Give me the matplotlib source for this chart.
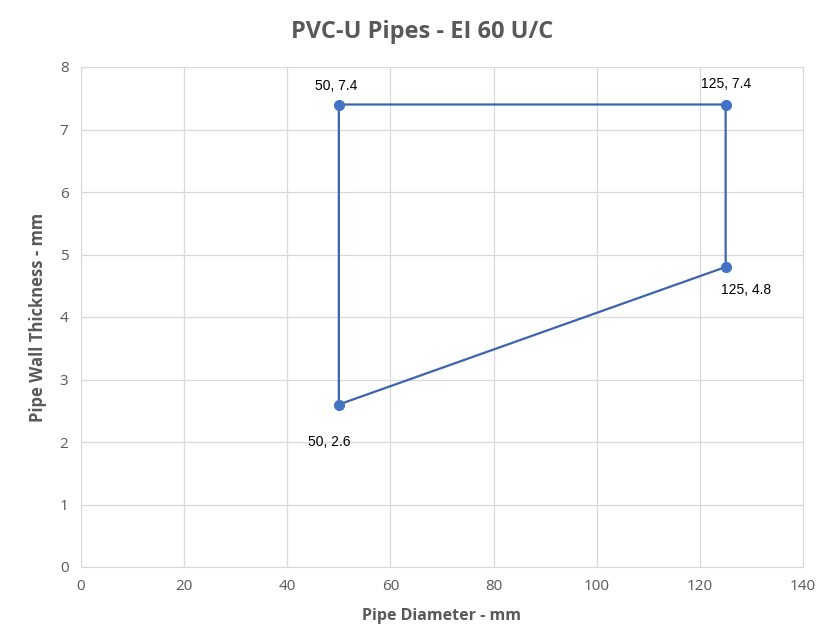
import matplotlib.pyplot as plt

# pipe diameter (mm) vs wall thickness (mm), closed outline
diameter = [50, 125, 125, 50, 50]
thickness = [7.4, 7.4, 4.8, 2.6, 7.4]
point_labels = ["50, 7.4", "125, 7.4", "125, 4.8", "50, 2.6"]
label_offsets = [(-3, 19), (0, 21), (20, -23), (-10, -38)]  # in pixels

x_ticks = [0, 20, 40, 60, 80, 100, 120, 140]
y_ticks = [0, 1, 2, 3, 4, 5, 6, 7, 8]

fig = plt.figure(figsize=(8.19, 6.43), dpi=100)
ax = fig.add_axes([81 / 819, 1 - 567 / 643, 722 / 819, 500 / 643])

ax.plot(diameter, thickness, color="#3B64AD", linewidth=1.6, zorder=3)
ax.plot(diameter[:-1], thickness[:-1], "o", color="#4472C4", markersize=7, zorder=4)

for i, txt in enumerate(point_labels):
    dx, dy = label_offsets[i]
    ax.annotate(txt, (diameter[i], thickness[i]), xytext=(dx * 0.72, dy * 0.72),
                textcoords="offset points", ha="center", va="center",
                fontsize=10, color="#000000", family="Liberation Sans")

ax.set_xlim(0, 140)
ax.set_ylim(0, 8)
ax.set_xticks(x_ticks)
ax.set_yticks(y_ticks)
ax.grid(True, color="#D9D9D9", linewidth=0.9)
ax.set_axisbelow(True)
for s in ax.spines.values():
    s.set_color("#D9D9D9")
ax.tick_params(length=0, colors="#595959", labelsize=11, pad=9)
for lab in ax.get_xticklabels() + ax.get_yticklabels():
    lab.set_family("Open Sans")

ax.set_xlabel("Pipe Diameter - mm", fontsize=11.5, fontweight="bold", color="#595959",
              family="Open Sans", labelpad=10)
ax.set_ylabel("Pipe Wall Thickness - mm", fontsize=12, fontweight="bold", color="#595959",
              family="Open Sans", labelpad=9)
fig.text(422 / 819, 1 - 32 / 643, "PVC-U Pipes - EI 60 U/C", ha="center", va="center",
         fontsize=17, fontweight="bold", color="#595959", family="Open Sans")

fig.savefig("out.png", dpi=100, facecolor="white")
